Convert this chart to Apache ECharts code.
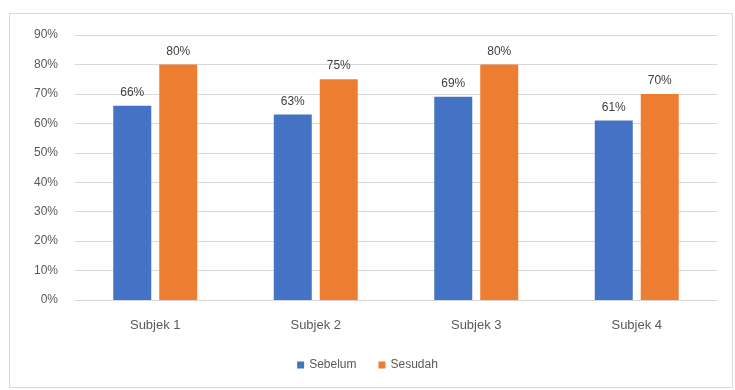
<!DOCTYPE html>
<html>
<head>
<meta charset="utf-8">
<style>
  html, body { margin: 0; padding: 0; background: #fff; }
  #chart { width: 735px; height: 390px; }
</style>
<script src="https://cdn.jsdelivr.net/npm/echarts@6/dist/echarts.min.js"></script>
</head>
<body>
<div id="chart"></div>
<script>
// data
const categories = ['Subjek 1', 'Subjek 2', 'Subjek 3', 'Subjek 4'];
const sebelum = [66, 63, 69, 61];
const sesudah = [80, 75, 80, 70];

const COLORS = {
  blue: '#4472C4',
  orange: '#ED7D31',
  grid: '#d9d9d9',
  text: '#595959',
};

const chart = echarts.init(document.getElementById('chart'));

const labelStyle = {
  show: true,
  position: 'top',
  distance: 7,
  formatter: '{c}%',
  color: '#404040',
  fontSize: 12,
  fontFamily: 'Liberation Sans',
};

chart.setOption({
  backgroundColor: '#fff',
  animation: false,
  graphic: [
    // outer chart border
    {
      type: 'rect',
      shape: { x: 9.5, y: 13.5, width: 723, height: 374 },
      style: { fill: 'none', stroke: '#d9d9d9', lineWidth: 1 },
      silent: true,
    },
  ],
  grid: { left: 75, right: 18, top: 35, bottom: 90 },
  legend: {
    bottom: 14,
    left: 'center',
    itemWidth: 7,
    itemHeight: 7,
    itemGap: 22,
    icon: 'rect',
    textStyle: { color: COLORS.text, fontSize: 12, fontFamily: 'Liberation Sans' },
    data: ['Sebelum', 'Sesudah'],
  },
  xAxis: {
    type: 'category',
    data: categories,
    axisLine: { lineStyle: { color: COLORS.grid } },
    axisTick: { show: false },
    axisLabel: { color: COLORS.text, fontSize: 13, margin: 19, fontFamily: 'Liberation Sans' },
  },
  yAxis: {
    type: 'value',
    min: 0,
    max: 90,
    interval: 10,
    axisLine: { show: false },
    axisTick: { show: false },
    axisLabel: { color: COLORS.text, fontSize: 12, margin: 17, formatter: '{value}%', fontFamily: 'Liberation Sans' },
    splitLine: { lineStyle: { color: COLORS.grid } },
  },
  series: [
    {
      name: 'Sebelum',
      type: 'bar',
      data: sebelum,
      barWidth: 38,
      barGap: '21%',
      itemStyle: { color: COLORS.blue },
      label: labelStyle,
    },
    {
      name: 'Sesudah',
      type: 'bar',
      data: sesudah,
      barWidth: 38,
      itemStyle: { color: COLORS.orange },
      label: labelStyle,
    },
  ],
});
</script>
</body>
</html>
